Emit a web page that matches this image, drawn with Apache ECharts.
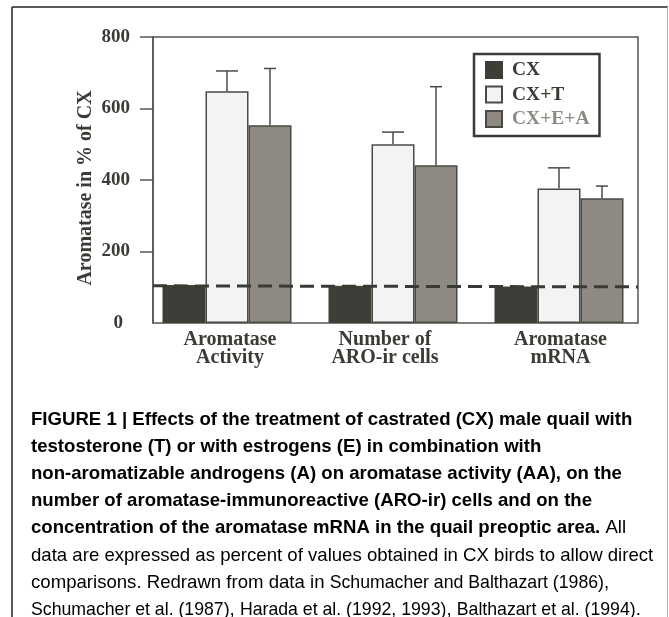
<!DOCTYPE html>
<html>
<head>
<meta charset="utf-8">
<script src="https://cdn.jsdelivr.net/npm/echarts@6/dist/echarts.min.js"></script>
<style>html,body{margin:0;padding:0;background:#fff}#c{width:669px;height:617px}</style>
</head>
<body>
<div id="c"></div>
<script>
const categories = ['Aromatase\nActivity', 'Number of\nARO-ir cells', 'Aromatase\nmRNA'];
const seriesNames = ['CX', 'CX+T', 'CX+E+A'];
const cxValues = [106, 104, 102];
const cxTValues = [648, 500, 376];
const cxEAValues = [553, 441, 349];
const cxTErrorTop = [705, 534, 434];
const cxEAErrorTop = [712, 661, 383];
const refLineValues = [104, 101];
const yTicks = [0, 200, 400, 600, 800];
const yTitle = 'Aromatase in % of CX';

const captionLines = [
  [['b', 'FIGURE 1 | Effects of the treatment of castrated (CX) male quail with']],
  [['b', 'testosterone (T) or with estrogens (E) in combination with']],
  [['b', 'non-aromatizable androgens (A) on aromatase activity (AA), on the']],
  [['b', 'number of aromatase-immunoreactive (ARO-ir) cells and on the']],
  [['b', 'concentration of the aromatase mRNA in the quail preoptic area.'], ['n', ' All']],
  [['n', 'data are expressed as percent of values obtained in CX birds to allow direct']],
  [['n', 'comparisons. Redrawn from data in '], ['g', 'Schumacher and Balthazart (1986)'], ['n', ',']],
  [['g', 'Schumacher et al. (1987)'], ['n', ', '], ['g', 'Harada et al. (1992, 1993)'], ['n', ', '], ['g', 'Balthazart et al. (1994)'], ['n', '.']]
];

const SERIF = '"Liberation Serif", "DejaVu Serif", serif';
const SANS = '"Liberation Sans", Arial, sans-serif';
const TXT = '#3b3b36';
const EDGE = '#4a4a45';
const BAR_W = 43;
const CAP_FS = 18.6;
const colors = ['#3e3e38', '#f3f3f3', '#8e8a83'];
// horizontal nudges of the category labels (style only)
const catLabelPad = [[0, 0, 0, 6], [0, 16, 0, 0], [0, 0, 0, 3]];

const chart = echarts.init(document.getElementById('c'), null, {renderer: 'canvas'});

function errSeries(name, tops, vals, offset, cap) {
  return {
    type: 'custom', name: name + ' err', xAxisIndex: 0, yAxisIndex: 1, z: 5,
    data: tops.map((t, i) => [i, t, vals[i]]),
    renderItem: function (params, api) {
      const ci = api.value(0);
      const pTop = api.coord([ci, api.value(1)]);
      const pBase = api.coord([ci, api.value(2)]);
      const x = pTop[0] + offset;
      const st = {stroke: EDGE, lineWidth: 1.5};
      return {type: 'group', children: [
        {type: 'line', shape: {x1: x, y1: pBase[1], x2: x, y2: pTop[1]}, style: st},
        {type: 'line', shape: {x1: x - cap / 2, y1: pTop[1], x2: x + cap / 2, y2: pTop[1]}, style: st}
      ]};
    }
  };
}

const richCaption = {
  b: {fontFamily: SANS, fontWeight: 'bold', fontSize: CAP_FS, color: '#111'},
  n: {fontFamily: SANS, fontWeight: 'normal', fontSize: CAP_FS, color: '#333'},
  g: {fontFamily: SANS, fontWeight: 'normal', fontSize: 17.7, color: '#8a8a8a'}
};
const captionGraphics = captionLines.map((parts, i) => ({
  type: 'text', left: 0, top: i * 27.2,
  style: {
    text: parts.map(p => '{' + p[0] + '|' + p[1] + '}').join(''),
    rich: richCaption, fontSize: CAP_FS, fontFamily: SANS
  }
}));

const option = {
  backgroundColor: '#fff',
  animation: false,
  grid: [
    {left: 153, right: 31, top: 37, bottom: 294, show: true, borderColor: '#555550', borderWidth: 1.5, backgroundColor: 'transparent'},
    {left: 144, right: 27, top: 37, bottom: 294}
  ],
  legend: {
    orient: 'vertical', left: 474, top: 54,
    data: [
      {name: 'CX'},
      {name: 'CX+T'},
      {name: 'CX+E+A', textStyle: {color: '#8e8a83'}}
    ],
    icon: 'rect', itemWidth: 16, itemHeight: 16, itemGap: 4.5,
    padding: [6, 10, 7, 11],
    borderColor: '#3a3a35', borderWidth: 2.5, backgroundColor: '#fff',
    textStyle: {fontFamily: SERIF, fontWeight: 'bold', fontSize: 19.5, color: TXT, padding: [0, 0, 0, 5]}
  },
  xAxis: [
    {
      type: 'category', gridIndex: 1,
      data: categories.map((c, i) => ({value: c, textStyle: {padding: catLabelPad[i]}})),
      axisLine: {show: false}, axisTick: {show: false},
      axisLabel: {margin: 8, fontFamily: SERIF, fontWeight: 'bold', fontSize: 20, lineHeight: 18, color: TXT}
    },
    {type: 'value', gridIndex: 0, min: 0, max: 1, show: false}
  ],
  yAxis: [
    {
      type: 'value', gridIndex: 0, min: 0, max: 800, interval: 200,
      name: yTitle, nameLocation: 'middle', nameGap: 57, nameMoveOverlap: false,
      nameTextStyle: {fontFamily: SERIF, fontWeight: 'bold', fontSize: 20, color: TXT, padding: [0, 16, 0, 0]},
      axisLine: {show: true, lineStyle: {color: '#555550', width: 1.5}},
      axisTick: {show: true, length: 13, customValues: yTicks.filter(v => v > 0), lineStyle: {color: '#555550', width: 1.5}},
      axisLabel: {
        margin: 23, fontFamily: SERIF, fontWeight: 'bold', fontSize: 19, color: TXT,
        customValues: yTicks,
        formatter: v => v === 0 ? '{z|0}' : String(v),
        rich: {z: {fontFamily: SERIF, fontWeight: 'bold', fontSize: 19, color: TXT, padding: [0, 7, 0, 0]}}
      },
      splitLine: {show: false}
    },
    {type: 'value', gridIndex: 1, min: 0, max: 800, show: false}
  ],
  series: [
    {name: seriesNames[0], type: 'bar', xAxisIndex: 0, yAxisIndex: 1, data: cxValues, barWidth: BAR_W, barGap: '0%',
      itemStyle: {color: colors[0], borderColor: '#3e3e38', borderWidth: 1}},
    {name: seriesNames[1], type: 'bar', xAxisIndex: 0, yAxisIndex: 1, data: cxTValues, barWidth: BAR_W, barGap: '0%',
      itemStyle: {color: colors[1], borderColor: EDGE, borderWidth: 1.5}},
    {name: seriesNames[2], type: 'bar', xAxisIndex: 0, yAxisIndex: 1, data: cxEAValues, barWidth: BAR_W, barGap: '0%',
      itemStyle: {color: colors[2], borderColor: EDGE, borderWidth: 1.5}},
    errSeries('CX+T', cxTErrorTop, cxTValues, 0, 22),
    errSeries('CX+E+A', cxEAErrorTop, cxEAValues, BAR_W, 12),
    {
      type: 'line', name: 'ref', xAxisIndex: 1, yAxisIndex: 0, z: 6, symbol: 'none',
      data: refLineValues.map((v, i) => [i, v]),
      lineStyle: {color: '#3a3a35', width: 3, type: [14, 7]}
    }
  ],
  graphic: [
    {type: 'line', shape: {x1: 12, y1: 7, x2: 668, y2: 7}, style: {stroke: '#222', lineWidth: 1.5}},
    {type: 'line', shape: {x1: 12, y1: 7, x2: 12, y2: 617}, style: {stroke: '#222', lineWidth: 1.5}},
    {type: 'line', shape: {x1: 667.5, y1: 7, x2: 667.5, y2: 617}, style: {stroke: '#b5b5b5', lineWidth: 1}},
    {type: 'group', left: 31, top: 410, children: captionGraphics}
  ]
};
chart.setOption(option);
</script>
</body>
</html>
